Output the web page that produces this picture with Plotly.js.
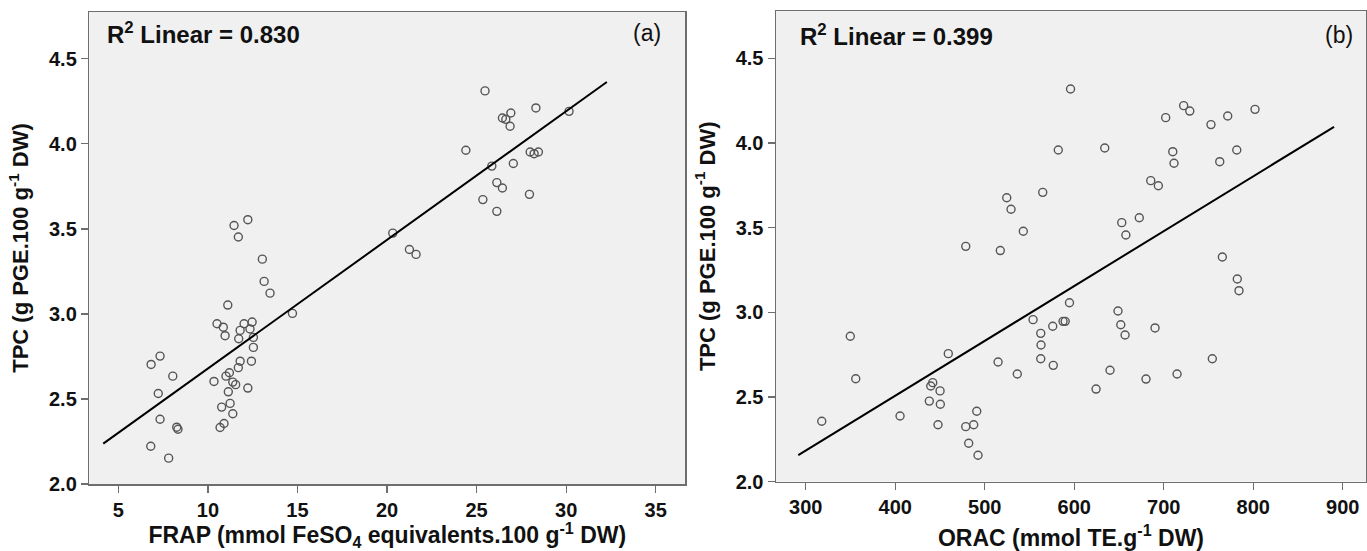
<!DOCTYPE html>
<html>
<head>
<meta charset="utf-8">
<script src="https://cdn.plot.ly/plotly-3.0.1.min.js"></script>
<style>html,body{margin:0;padding:0;background:#fff;}#chart{width:1367px;height:551px;}</style>
</head>
<body>
<div id="chart"></div>
<script>
// Panel (a): FRAP vs TPC
const frapX = [11.46,12.23,11.70,25.47,28.31,30.16,26.91,26.44,26.63,26.87,24.40,27.99,28.21,28.45,25.85,27.05,26.13,26.44,25.35,27.95,26.13,20.32,21.25,21.62,13.04,13.14,13.47,11.11,14.72,10.51,10.86,12.02,12.47,11.80,12.35,10.96,11.72,12.54,12.54,7.33,6.83,11.80,12.43,11.70,8.04,11.20,11.01,10.34,11.39,11.55,12.23,11.14,7.23,11.24,10.77,11.39,7.33,8.26,8.33,10.90,10.68,6.81,7.81];
const frapTPC = [3.52,3.554,3.452,4.311,4.211,4.191,4.181,4.152,4.144,4.103,3.962,3.952,3.942,3.952,3.869,3.884,3.772,3.740,3.672,3.703,3.603,3.475,3.379,3.35,3.322,3.191,3.122,3.052,3.003,2.942,2.922,2.942,2.952,2.903,2.911,2.872,2.854,2.862,2.803,2.752,2.703,2.722,2.722,2.684,2.634,2.654,2.634,2.603,2.599,2.584,2.564,2.542,2.532,2.474,2.452,2.413,2.381,2.334,2.322,2.356,2.332,2.222,2.152];
// Panel (b): ORAC vs TPC
const oracX = [595.9,582.2,564.8,524.6,529.4,543.1,478.8,517.4,722.3,729.1,802.0,702.2,771.5,752.8,634.1,710.1,711.5,781.6,762.6,685.5,694.0,653.1,672.7,657.7,349.8,355.9,459.3,317.9,405.4,441.9,439.7,450.1,438.1,450.4,447.8,491.1,478.8,487.7,482.1,492.5,514.9,536.4,554.0,562.6,562.9,562.6,576.6,576.0,587.5,589.9,594.7,765.5,782.2,784.1,648.9,652.0,656.8,690.3,754.3,640.0,624.4,680.2,714.9];
const oracTPC = [4.318,3.958,3.708,3.676,3.608,3.478,3.389,3.364,4.220,4.188,4.198,4.149,4.159,4.108,3.970,3.948,3.880,3.958,3.889,3.777,3.747,3.529,3.558,3.456,2.858,2.607,2.755,2.356,2.387,2.584,2.564,2.535,2.475,2.456,2.335,2.415,2.324,2.335,2.226,2.155,2.706,2.635,2.956,2.875,2.806,2.725,2.686,2.917,2.946,2.946,3.056,3.326,3.196,3.127,3.007,2.926,2.865,2.907,2.725,2.657,2.546,2.605,2.635];
// Fit-line x extents
const frapFitX = [4.16, 32.27];
const oracFitX = [291.7, 890.3];
const r2Labels = ["R<sup>2</sup> Linear = 0.830", "R<sup>2</sup> Linear = 0.399"];
const panelLabels = ["(a)", "(b)"];
const xTitles = ["FRAP (mmol FeSO<sub>4</sub> equivalents.100 g<sup>-1</sup> DW)", "ORAC (mmol TE.g<sup>-1</sup> DW)"];
const yTitle = "TPC (g PGE.100 g<sup>-1</sup> DW)";

function linfit(xs, ys) {
  const n = xs.length;
  let sx=0, sy=0, sxx=0, sxy=0;
  for (let i=0;i<n;i++){ sx+=xs[i]; sy+=ys[i]; sxx+=xs[i]*xs[i]; sxy+=xs[i]*ys[i]; }
  const b = (n*sxy - sx*sy)/(n*sxx - sx*sx);
  const a = (sy - b*sx)/n;
  return {a, b};
}
const f1 = linfit(frapX, frapTPC);
const f2 = linfit(oracX, oracTPC);

const FONT = "Liberation Sans, Arial, sans-serif";
const mk = {symbol:'circle-open', size:8, color:'#555555', line:{width:1.4}};

const traces = [
  {x: frapX, y: frapTPC, type:'scatter', mode:'markers', marker: mk, xaxis:'x', yaxis:'y'},
  {x: frapFitX, y: frapFitX.map(v => f1.a + f1.b*v), type:'scatter', mode:'lines', line:{color:'#000', width:2}, xaxis:'x', yaxis:'y'},
  {x: oracX, y: oracTPC, type:'scatter', mode:'markers', marker: mk, xaxis:'x2', yaxis:'y2'},
  {x: oracFitX, y: oracFitX.map(v => f2.a + f2.b*v), type:'scatter', mode:'lines', line:{color:'#000', width:2}, xaxis:'x2', yaxis:'y2'}
];

const axBase = {
  showgrid:false, zeroline:false, showline:true, mirror:true,
  linecolor:'#6e6e6e', linewidth:1.5, ticks:'outside', ticklen:7, tickwidth:1.3, tickcolor:'#6e6e6e',
  tickfont:{family:FONT, size:20, color:'#111', weight:'bold'}
};
const xTitleFont = {family:FONT, size:23, color:'#111', weight:'bold'};
const yTitleFont = {family:FONT, size:22, color:'#111', weight:'bold'};
const W = 1367, H = 551;
const layout = {
  width: W, height: H,
  margin:{l:0, r:0, t:0, b:0},
  paper_bgcolor:'#ffffff',
  plot_bgcolor:'#f0f0f0',
  showlegend:false,
  xaxis: Object.assign({}, axBase, {
    domain:[89.3/W, 685.3/W], range:[3.38, 36.65], tickvals:[5,10,15,20,25,30,35], anchor:'y',
    title:{text:xTitles[0], font:xTitleFont, standoff:15}
  }),
  yaxis: Object.assign({}, axBase, {
    domain:[(H-484)/H, (H-12)/H], range:[2.0, 4.775], tickvals:[2.0,2.5,3.0,3.5,4.0,4.5], tickformat:'.1f', anchor:'x',
    title:{text:yTitle, font:yTitleFont, standoff:14}
  }),
  xaxis2: Object.assign({}, axBase, {
    domain:[776/W, 1366/W], range:[266.8, 926], tickvals:[300,400,500,600,700,800,900], anchor:'y2',
    title:{text:xTitles[1], font:xTitleFont, standoff:15}
  }),
  yaxis2: Object.assign({}, axBase, {
    domain:[(H-481.5)/H, (H-11)/H], range:[2.0, 4.779], tickvals:[2.0,2.5,3.0,3.5,4.0,4.5], tickformat:'.1f', anchor:'x2',
    title:{text:yTitle, font:yTitleFont, standoff:14}
  }),
  annotations: [
    {xref:'x domain', yref:'y domain', x:0.026, y:0.955, xanchor:'left', yanchor:'middle', text:r2Labels[0], showarrow:false, font:{family:FONT, size:24, color:'#111', weight:'bold'}},
    {xref:'x domain', yref:'y domain', x:0.963, y:0.956, xanchor:'right', yanchor:'middle', text:panelLabels[0], showarrow:false, font:{family:FONT, size:23, color:'#111'}},
    {xref:'x2 domain', yref:'y2 domain', x:0.037, y:0.949, xanchor:'left', yanchor:'middle', text:r2Labels[1], showarrow:false, font:{family:FONT, size:24, color:'#111', weight:'bold'}},
    {xref:'x2 domain', yref:'y2 domain', x:0.981, y:0.949, xanchor:'right', yanchor:'middle', text:panelLabels[1], showarrow:false, font:{family:FONT, size:23, color:'#111'}}
  ]
};

Plotly.newPlot('chart', traces, layout, {displayModeBar:false, staticPlot:true});
</script>
</body>
</html>
